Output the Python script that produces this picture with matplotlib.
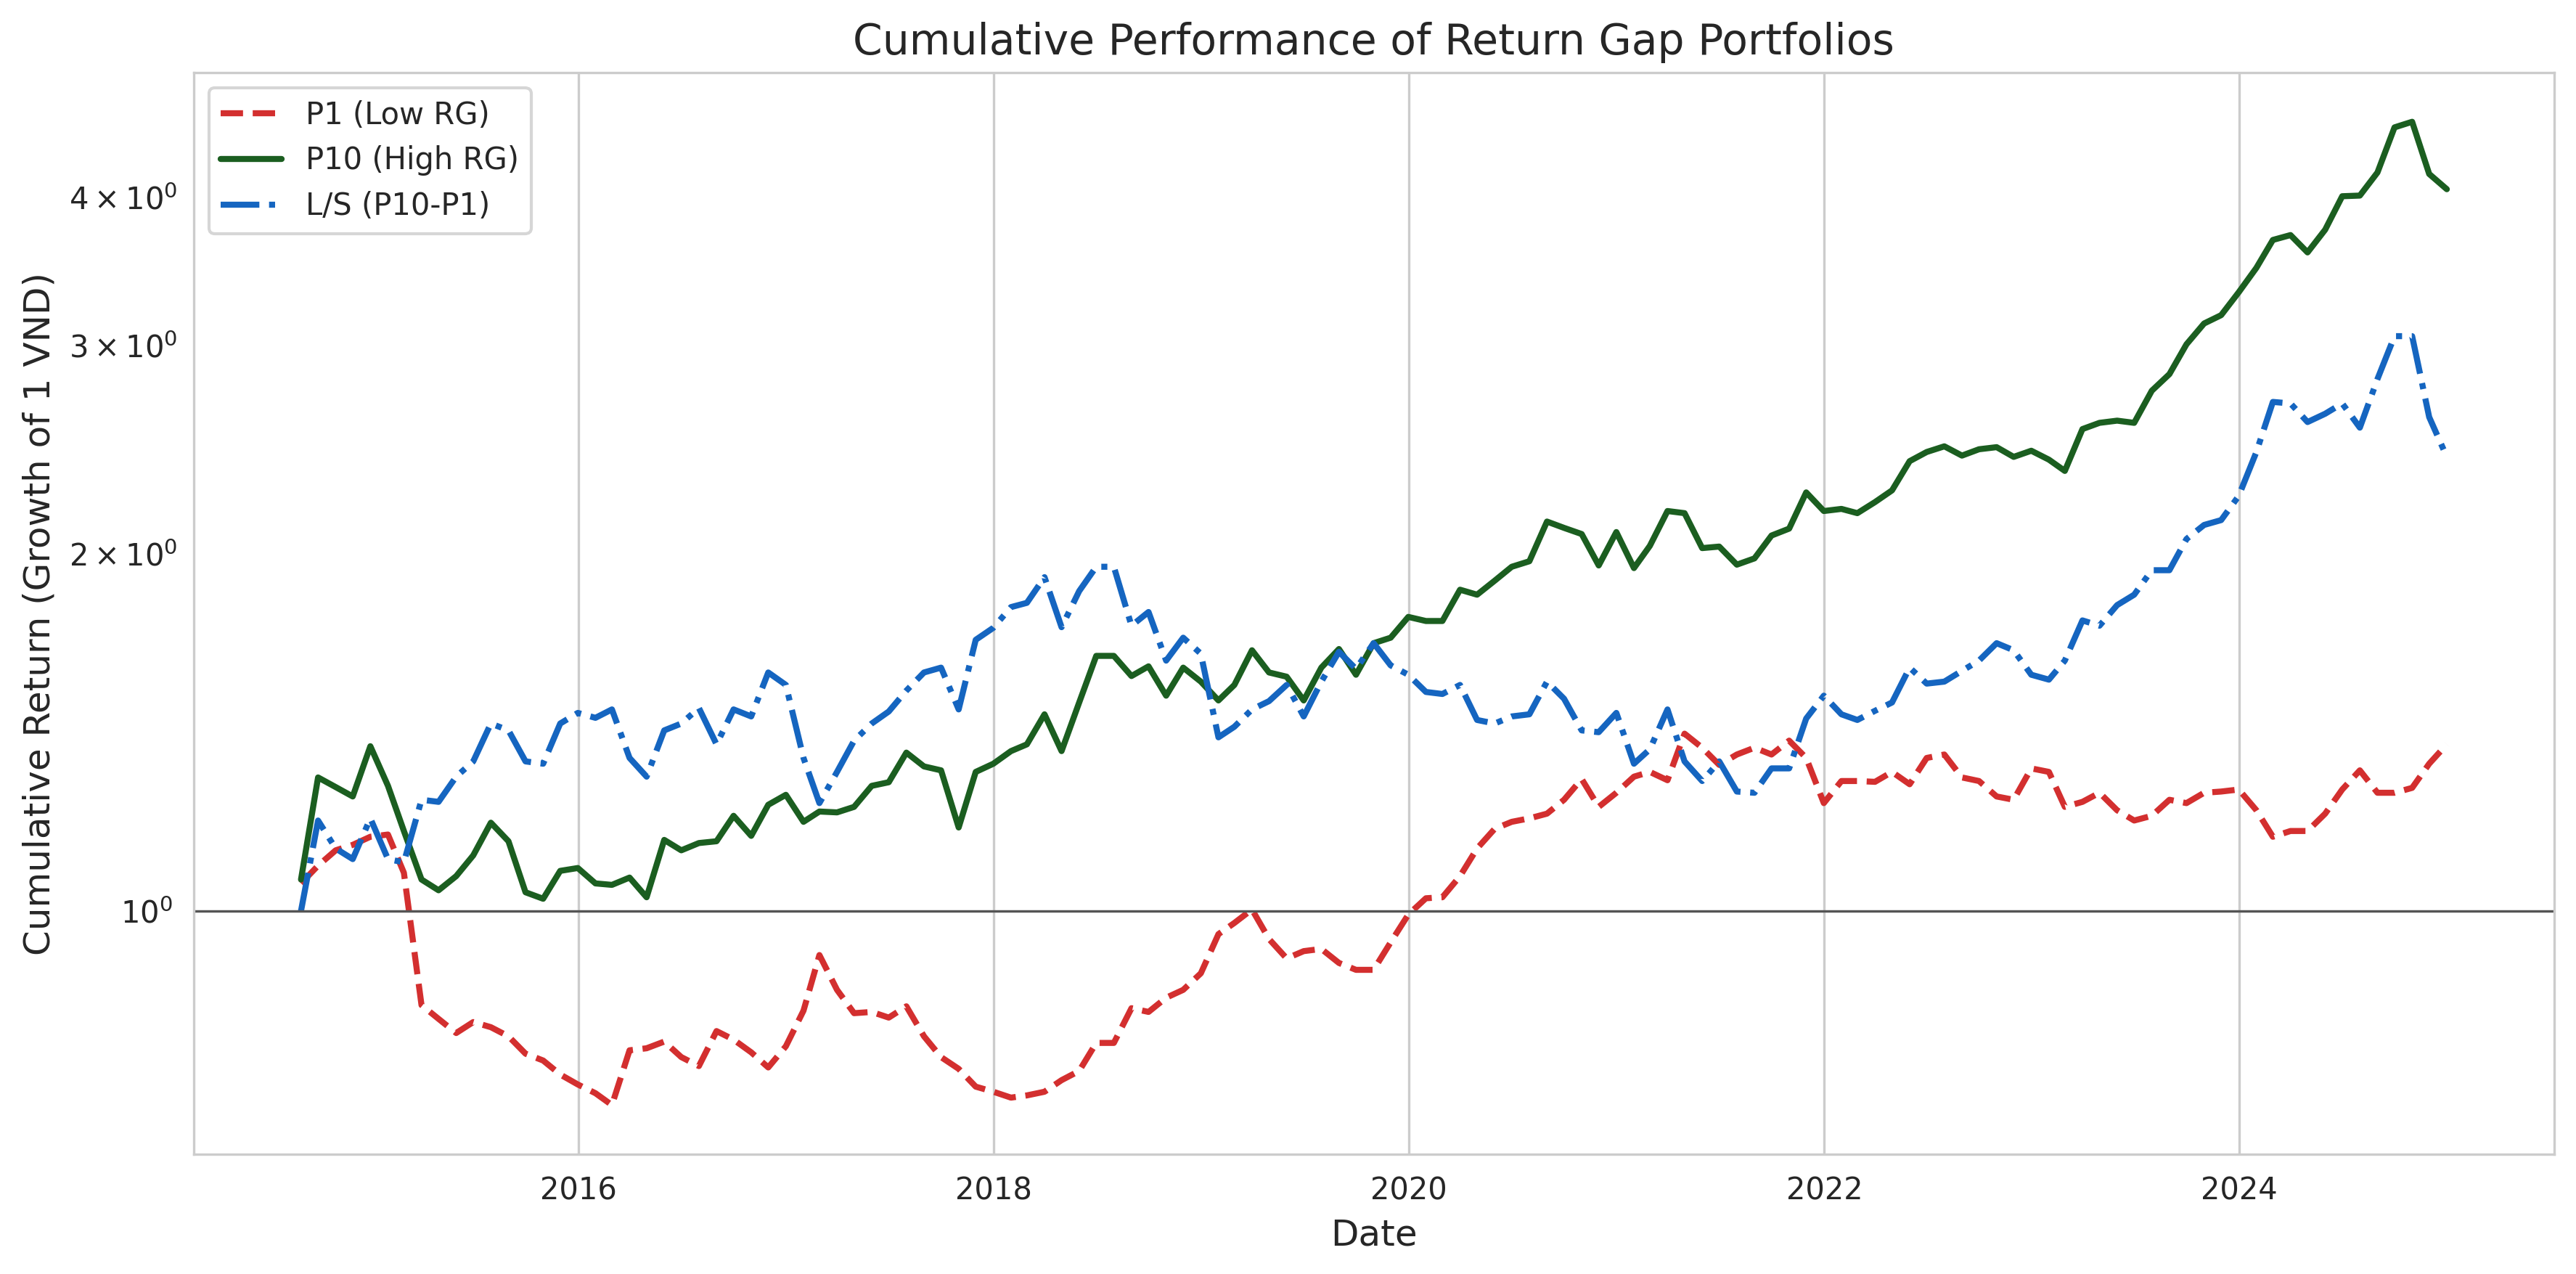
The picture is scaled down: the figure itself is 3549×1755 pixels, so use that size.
import numpy as np
import pandas as pd
import matplotlib
matplotlib.use("Agg")
import matplotlib.pyplot as plt
import seaborn as sns

dates = pd.date_range("2014-08-31", periods=125, freq="ME")

p1_low = [
    1.055, 1.092, 1.125, 1.137, 1.155, 1.160, 1.077, 0.833, 0.811, 0.789,
    0.806, 0.798, 0.784, 0.758, 0.748, 0.728, 0.714, 0.702, 0.686, 0.763,
    0.766, 0.776, 0.753, 0.740, 0.792, 0.779, 0.760, 0.738, 0.769, 0.824,
    0.918, 0.858, 0.820, 0.822, 0.813, 0.831, 0.784, 0.753, 0.736, 0.711,
    0.704, 0.696, 0.699, 0.704, 0.720, 0.733, 0.774, 0.774, 0.828, 0.822,
    0.845, 0.858, 0.886, 0.956, 0.977, 1.003, 0.947, 0.912, 0.925, 0.929,
    0.904, 0.892, 0.892, 0.941, 0.993, 1.025, 1.027, 1.070, 1.129, 1.173,
    1.189, 1.197, 1.208, 1.241, 1.292, 1.224, 1.258, 1.298, 1.310, 1.289,
    1.411, 1.373, 1.328, 1.355, 1.373, 1.355, 1.392, 1.346, 1.233, 1.287,
    1.287, 1.285, 1.310, 1.279, 1.346, 1.355, 1.296, 1.287, 1.249, 1.241,
    1.319, 1.310, 1.224, 1.236, 1.258, 1.216, 1.192, 1.203, 1.241, 1.233,
    1.258, 1.261, 1.266, 1.216, 1.155, 1.168, 1.168, 1.208, 1.266, 1.314,
    1.258, 1.258, 1.270, 1.331, 1.382,
]

p10_high = [
    1.063, 1.296, 1.272, 1.249, 1.377, 1.275, 1.168, 1.063, 1.041, 1.070,
    1.114, 1.187, 1.145, 1.037, 1.024, 1.081, 1.087, 1.055, 1.052, 1.067,
    1.027, 1.148, 1.125, 1.141, 1.145, 1.203, 1.157, 1.229, 1.253, 1.189,
    1.213, 1.211, 1.224, 1.275, 1.284, 1.360, 1.324, 1.314, 1.176, 1.310,
    1.331, 1.364, 1.382, 1.465, 1.364, 1.499, 1.641, 1.641, 1.578, 1.608,
    1.519, 1.604, 1.561, 1.505, 1.551, 1.659, 1.589, 1.576, 1.505, 1.604,
    1.663, 1.582, 1.682, 1.700, 1.770, 1.756, 1.756, 1.866, 1.848, 1.899,
    1.951, 1.972, 2.130, 2.104, 2.079, 1.956, 2.087, 1.946, 2.032, 2.174,
    2.165, 2.023, 2.029, 1.959, 1.983, 2.073, 2.101, 2.254, 2.174, 2.183,
    2.165, 2.212, 2.263, 2.395, 2.438, 2.465, 2.421, 2.451, 2.461, 2.415,
    2.444, 2.402, 2.350, 2.549, 2.580, 2.591, 2.580, 2.746, 2.836, 3.005,
    3.129, 3.180, 3.325, 3.486, 3.680, 3.715, 3.592, 3.754, 4.006, 4.011,
    4.195, 4.579, 4.629, 4.183, 4.061,
]

long_short = [
    1.000, 1.192, 1.129, 1.106, 1.197, 1.106, 1.099, 1.241, 1.236, 1.298,
    1.337, 1.439, 1.420, 1.337, 1.331, 1.439, 1.469, 1.455, 1.479, 1.346,
    1.298, 1.420, 1.439, 1.483, 1.382, 1.479, 1.459, 1.589, 1.551, 1.346,
    1.233, 1.310, 1.392, 1.439, 1.473, 1.534, 1.589, 1.604, 1.479, 1.693,
    1.733, 1.804, 1.819, 1.912, 1.735, 1.861, 1.951, 1.951, 1.740, 1.787,
    1.626, 1.700, 1.648, 1.401, 1.430, 1.479, 1.503, 1.551, 1.459, 1.561,
    1.654, 1.600, 1.682, 1.611, 1.582, 1.530, 1.524, 1.551, 1.449, 1.439,
    1.459, 1.465, 1.561, 1.510, 1.420, 1.415, 1.469, 1.331, 1.369, 1.479,
    1.337, 1.287, 1.337, 1.261, 1.258, 1.319, 1.319, 1.453, 1.519, 1.465,
    1.449, 1.475, 1.499, 1.604, 1.555, 1.561, 1.594, 1.626, 1.682, 1.659,
    1.582, 1.567, 1.626, 1.758, 1.740, 1.811, 1.848, 1.938, 1.938, 2.059,
    2.116, 2.136, 2.239, 2.438, 2.687, 2.679, 2.584, 2.626, 2.679, 2.556,
    2.809, 3.053, 3.053, 2.609, 2.415,
]

labels = ["P1 (Low RG)", "P10 (High RG)", "L/S (P10-P1)"]

sns.set_style("whitegrid")
plt.rcParams["font.family"] = ["DejaVu Sans"]

fig = plt.figure(figsize=(11.83, 5.85), dpi=300)
ax = fig.add_subplot(111)
fig.subplots_adjust(left=0.0752, right=0.9915, top=0.943, bottom=0.094)

ax.plot(dates, p1_low, linestyle="--", color="#d32f2f", linewidth=2, label=labels[0])
ax.plot(dates, p10_high, linestyle="-", color="#1b5e20", linewidth=2, label=labels[1])
ax.plot(dates, long_short, linestyle="-.", color="#1565c0", linewidth=2, label=labels[2])
ax.axhline(1.0, color="#555555", linewidth=0.8)

ax.set_yscale("log")
ax.set_title("Cumulative Performance of Return Gap Portfolios", fontsize=14)
ax.set_xlabel("Date", fontsize=12)
ax.set_ylabel("Cumulative Return (Growth of 1 VND)", fontsize=12)
ax.legend(loc="upper left", fontsize=10)

fig.savefig("out.png", dpi=300)
